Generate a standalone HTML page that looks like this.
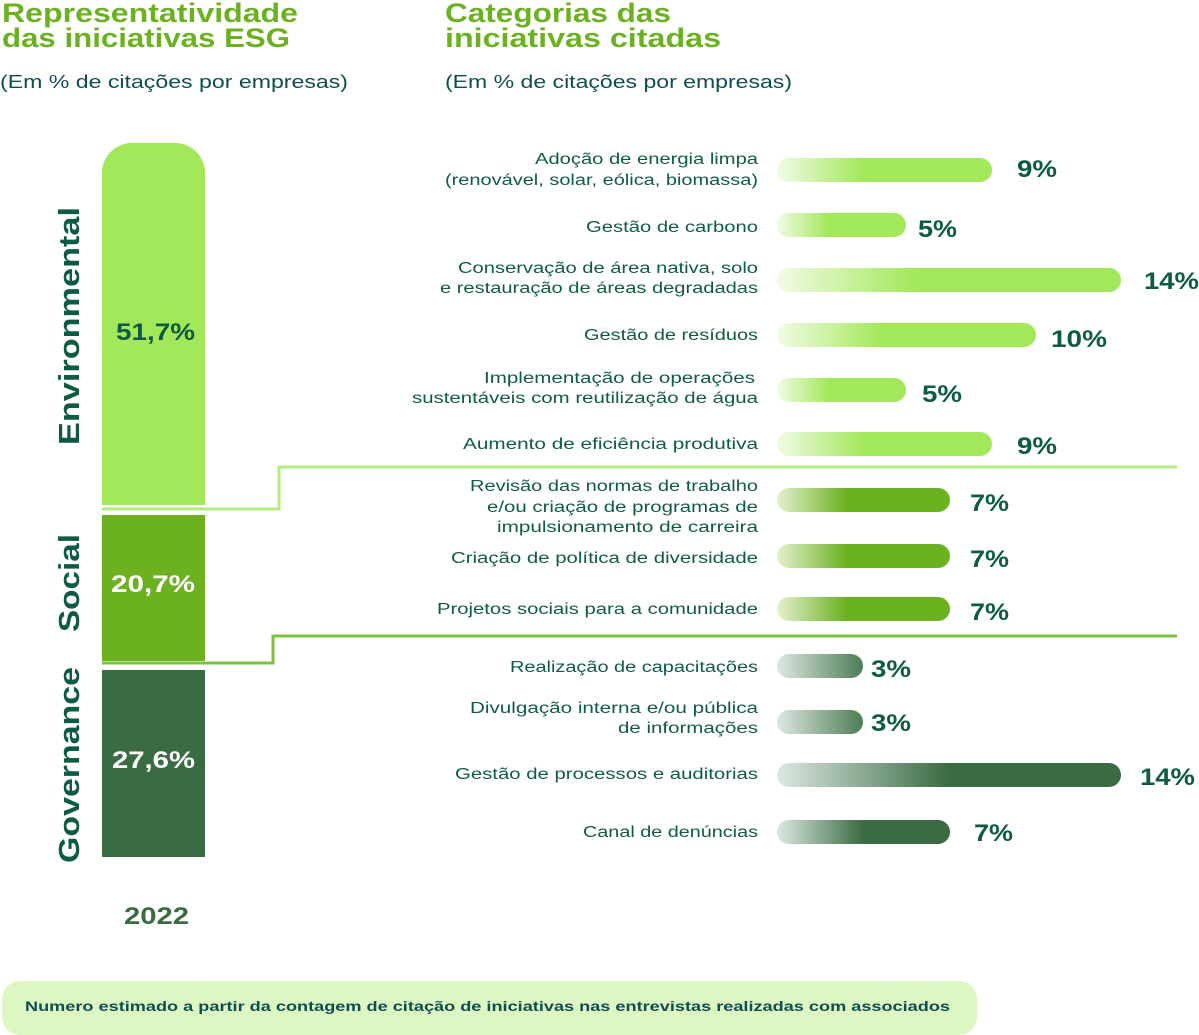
<!DOCTYPE html>
<html><head><meta charset="utf-8"><style>
html,body{margin:0;padding:0;background:#fff;}
svg{display:block;font-family:"Liberation Sans",sans-serif;}
.t{font-weight:bold;fill:#6bb120;font-size:27px;}
.s{fill:#0f4d52;font-size:18px;}
.l{fill:#0f5a4a;font-size:15.5px;text-anchor:end;}
.p{fill:#0d5a45;font-size:24px;font-weight:bold;}
.v{fill:#0d5a45;font-size:29px;font-weight:bold;}
</style></head><body>
<svg width="1199" height="1035" viewBox="0 0 1199 1035">
<defs>
<linearGradient id="g1" x1="0" x2="1"><stop offset="0" stop-color="#f2fbe6"/><stop offset="0.4" stop-color="#a3e85a"/><stop offset="1" stop-color="#a3e85a"/></linearGradient>
<linearGradient id="g2" x1="0" x2="1"><stop offset="0" stop-color="#e3f1d0"/><stop offset="0.4" stop-color="#6bb120"/><stop offset="1" stop-color="#6bb120"/></linearGradient>
<linearGradient id="g3" x1="0" x2="1"><stop offset="0" stop-color="#dde8e2"/><stop offset="0.5" stop-color="#3a6b42"/><stop offset="1" stop-color="#3a6b42"/></linearGradient>
<linearGradient id="g3s" x1="0" x2="1"><stop offset="0" stop-color="#dde8e2"/><stop offset="1" stop-color="#4d7d55"/></linearGradient>
</defs>
<text class="t" x="2" y="22" textLength="296" lengthAdjust="spacingAndGlyphs">Representatividade</text>
<text class="t" x="2" y="47" textLength="288" lengthAdjust="spacingAndGlyphs">das iniciativas ESG</text>
<text class="s" x="0" y="88" textLength="348" lengthAdjust="spacingAndGlyphs">(Em % de citações por empresas)</text>
<text class="t" x="445" y="22" textLength="226" lengthAdjust="spacingAndGlyphs">Categorias das</text>
<text class="t" x="445" y="47" textLength="276" lengthAdjust="spacingAndGlyphs">iniciativas citadas</text>
<text class="s" x="445" y="88" textLength="347" lengthAdjust="spacingAndGlyphs">(Em % de citações por empresas)</text>

<path d="M102 505 V175 a30 30 0 0 1 30 -32 h43 a30 30 0 0 1 30 32 V505 Z" fill="#a3e85a"/>
<rect x="102" y="515" width="103" height="146" fill="#6bb120"/>
<rect x="102" y="670" width="103" height="187" fill="#3a6b42"/>
<text x="116" y="340" font-size="24" font-weight="bold" fill="#0d5a45" textLength="79" lengthAdjust="spacingAndGlyphs">51,7%</text>
<text x="111" y="592" font-size="24" font-weight="bold" fill="#fff" textLength="84" lengthAdjust="spacingAndGlyphs">20,7%</text>
<text x="112" y="768" font-size="24" font-weight="bold" fill="#fff" textLength="83" lengthAdjust="spacingAndGlyphs">27,6%</text>
<text class="v" transform="translate(79,326) rotate(-90)" text-anchor="middle" textLength="238" lengthAdjust="spacingAndGlyphs">Environmental</text>
<text class="v" transform="translate(79,583) rotate(-90)" text-anchor="middle" textLength="98" lengthAdjust="spacingAndGlyphs">Social</text>
<text class="v" transform="translate(79,765) rotate(-90)" text-anchor="middle" textLength="196" lengthAdjust="spacingAndGlyphs">Governance</text>
<text x="124" y="924" font-size="24" font-weight="bold" fill="#3a6b42" textLength="65" lengthAdjust="spacingAndGlyphs">2022</text>

<polyline points="102,509 279,509 279,467 1177,467" fill="none" stroke="#b5ec80" stroke-width="3"/>
<polyline points="102,663 273,663 273,636 1177,636" fill="none" stroke="#7cc040" stroke-width="3"/>

<g>
<rect x="777" y="158" width="215" height="24" rx="12" fill="url(#g1)"/>
<rect x="777" y="213" width="129" height="24" rx="12" fill="url(#g1)"/>
<rect x="777" y="268" width="344" height="24" rx="12" fill="url(#g1)"/>
<rect x="777" y="323" width="259" height="24" rx="12" fill="url(#g1)"/>
<rect x="777" y="378" width="129" height="24" rx="12" fill="url(#g1)"/>
<rect x="777" y="432" width="215" height="24" rx="12" fill="url(#g1)"/>
<rect x="777" y="488" width="173" height="24" rx="12" fill="url(#g2)"/>
<rect x="777" y="544" width="173" height="24" rx="12" fill="url(#g2)"/>
<rect x="777" y="597" width="173" height="24" rx="12" fill="url(#g2)"/>
<rect x="777" y="654" width="86" height="24" rx="12" fill="url(#g3s)"/>
<rect x="777" y="710" width="86" height="24" rx="12" fill="url(#g3s)"/>
<rect x="777" y="763" width="344" height="24" rx="12" fill="url(#g3)"/>
<rect x="777" y="820" width="173" height="24" rx="12" fill="url(#g3)"/>
</g>
<g class="p">
<text x="1017" y="177" textLength="40" lengthAdjust="spacingAndGlyphs">9%</text>
<text x="918" y="237" textLength="39" lengthAdjust="spacingAndGlyphs">5%</text>
<text x="1144" y="289" textLength="55" lengthAdjust="spacingAndGlyphs">14%</text>
<text x="1051" y="347" textLength="56" lengthAdjust="spacingAndGlyphs">10%</text>
<text x="922" y="402" textLength="40" lengthAdjust="spacingAndGlyphs">5%</text>
<text x="1017" y="454" textLength="40" lengthAdjust="spacingAndGlyphs">9%</text>
<text x="970" y="511" textLength="39" lengthAdjust="spacingAndGlyphs">7%</text>
<text x="970" y="567" textLength="39" lengthAdjust="spacingAndGlyphs">7%</text>
<text x="970" y="620" textLength="39" lengthAdjust="spacingAndGlyphs">7%</text>
<text x="871" y="677" textLength="40" lengthAdjust="spacingAndGlyphs">3%</text>
<text x="871" y="731" textLength="40" lengthAdjust="spacingAndGlyphs">3%</text>
<text x="1140" y="785" textLength="55" lengthAdjust="spacingAndGlyphs">14%</text>
<text x="974" y="841" textLength="39" lengthAdjust="spacingAndGlyphs">7%</text>
</g>
<g class="l">
<text x="758" y="164" textLength="223" lengthAdjust="spacingAndGlyphs">Adoção de energia limpa</text>
<text x="758" y="185" textLength="313" lengthAdjust="spacingAndGlyphs">(renovável, solar, eólica, biomassa)</text>
<text x="758" y="232" textLength="172" lengthAdjust="spacingAndGlyphs">Gestão de carbono</text>
<text x="758" y="273" textLength="300" lengthAdjust="spacingAndGlyphs">Conservação de área nativa, solo</text>
<text x="758" y="293" textLength="318" lengthAdjust="spacingAndGlyphs">e restauração de áreas degradadas</text>
<text x="758" y="340" textLength="174" lengthAdjust="spacingAndGlyphs">Gestão de resíduos</text>
<text x="755" y="383" textLength="271" lengthAdjust="spacingAndGlyphs">Implementação de operações</text>
<text x="758" y="403" textLength="346" lengthAdjust="spacingAndGlyphs">sustentáveis com reutilização de água</text>
<text x="758" y="449" textLength="295" lengthAdjust="spacingAndGlyphs">Aumento de eficiência produtiva</text>
<text x="758" y="491" textLength="288" lengthAdjust="spacingAndGlyphs">Revisão das normas de trabalho</text>
<text x="758" y="512" textLength="271" lengthAdjust="spacingAndGlyphs">e/ou criação de programas de</text>
<text x="758" y="532" textLength="261" lengthAdjust="spacingAndGlyphs">impulsionamento de carreira</text>
<text x="758" y="563" textLength="307" lengthAdjust="spacingAndGlyphs">Criação de política de diversidade</text>
<text x="758" y="614" textLength="321" lengthAdjust="spacingAndGlyphs">Projetos sociais para a comunidade</text>
<text x="758" y="672" textLength="248" lengthAdjust="spacingAndGlyphs">Realização de capacitações</text>
<text x="758" y="713" textLength="288" lengthAdjust="spacingAndGlyphs">Divulgação interna e/ou pública</text>
<text x="758" y="733" textLength="140" lengthAdjust="spacingAndGlyphs">de informações</text>
<text x="758" y="779" textLength="303" lengthAdjust="spacingAndGlyphs">Gestão de processos e auditorias</text>
<text x="758" y="837" textLength="175" lengthAdjust="spacingAndGlyphs">Canal de denúncias</text>
</g>

<rect x="2" y="981" width="975" height="54" rx="18" fill="#dcf7c2"/>
<text x="25" y="1011" font-size="14" font-weight="bold" fill="#0f4d52" textLength="925" lengthAdjust="spacingAndGlyphs">Numero estimado a partir da contagem de citação de iniciativas nas entrevistas realizadas com associados</text>
</svg>
</body></html>
